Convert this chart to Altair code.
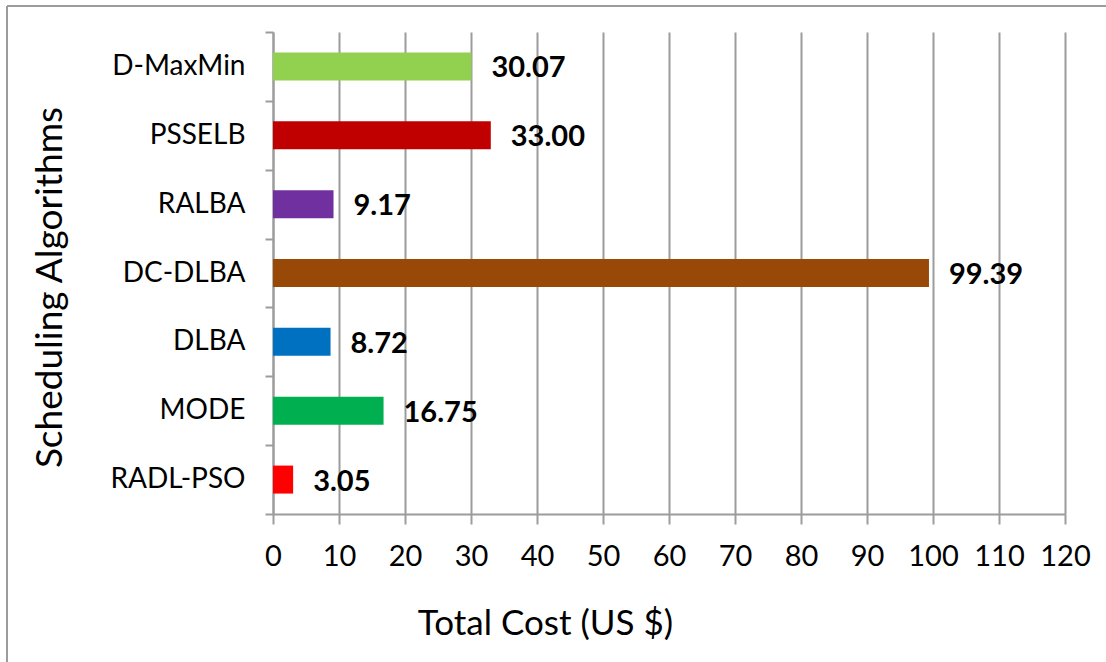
import altair as alt
import pandas as pd

# Total cost per scheduling algorithm (top to bottom)
algorithms = ["D-MaxMin", "PSSELB", "RALBA", "DC-DLBA", "DLBA", "MODE", "RADL-PSO"]
total_cost = [30.07, 33.00, 9.17, 99.39, 8.72, 16.75, 3.05]
bar_colors = ["#92D050", "#C00000", "#7030A0", "#984807", "#0070C0", "#00B050", "#FF0000"]
x_ticks = list(range(0, 121, 10))

df = pd.DataFrame({
    "algorithm": algorithms,
    "cost": total_cost,
    "label": [f"{v:.2f}" for v in total_cost],
})

FONT = "Lato"
GRAY = "#9c9c9c"

y_enc = alt.Y(
    "algorithm:N",
    sort=algorithms,
    scale=alt.Scale(paddingInner=0, paddingOuter=0),
    axis=alt.Axis(
        title="Scheduling Algorithms",
        titleFontSize=37, titleFontWeight="normal", titleFont=FONT, titleColor="black",
        titleX=-223, titleY=255, titleAngle=270, titleAlign="center", titleBaseline="middle",
        labelFont=FONT, labelFontSize=28, labelColor="black", labelPadding=20,
        tickBand="extent", tickSize=8, tickColor=GRAY, tickWidth=2,
        domainColor=GRAY, domainWidth=2, grid=False,
    ),
)

x_enc = alt.X(
    "cost:Q",
    scale=alt.Scale(domain=[0, 120], nice=False),
    axis=alt.Axis(
        values=x_ticks,
        labelOverlap=False,
        labelFlush=False,
        title="Total Cost (US $)",
        titleFontSize=35, titleFontWeight="normal", titleFont=FONT, titleColor="black",
        titleX=272, titleY=109, titleAlign="center", titleBaseline="middle",
        labelFont=FONT, labelFontSize=29, labelColor="black", labelPadding=18,
        tickSize=10, tickColor=GRAY, tickWidth=2,
        domainColor=GRAY, domainWidth=2,
        grid=True, gridColor=GRAY, gridWidth=2,
    ),
)

bars = alt.Chart(df).mark_bar(size=28).encode(
    y=y_enc,
    x=x_enc,
    color=alt.Color("algorithm:N", scale=alt.Scale(domain=algorithms, range=bar_colors), legend=None),
)

labels = alt.Chart(df).mark_text(
    align="left", baseline="middle", dx=20, dy=2,
    font=FONT, fontSize=29, fontWeight="bold", color="black",
).encode(
    y=alt.Y("algorithm:N", sort=algorithms),
    x=alt.X("cost:Q"),
    text="label:N",
)

# Outer frame lines of the figure
frame = alt.Data(values=[{}])
left_edge = alt.Chart(frame).mark_rule(color=GRAY, strokeWidth=2).encode(
    x=alt.value(-266), y=alt.value(-26), y2=alt.value(640)
)
top_edge = alt.Chart(frame).mark_rule(color=GRAY, strokeWidth=2).encode(
    y=alt.value(-26), x=alt.value(-266), x2=alt.value(840)
)

chart = alt.layer(bars, labels, left_edge, top_edge).properties(
    width=792,
    height=482,
    autosize=alt.AutoSizeParams(type="none"),
    padding={"left": 273, "top": 32, "right": 41, "bottom": 148},
    background="white",
).configure_view(stroke=None)

chart.save("out.html", embed_options={"renderer": "svg", "actions": False})
